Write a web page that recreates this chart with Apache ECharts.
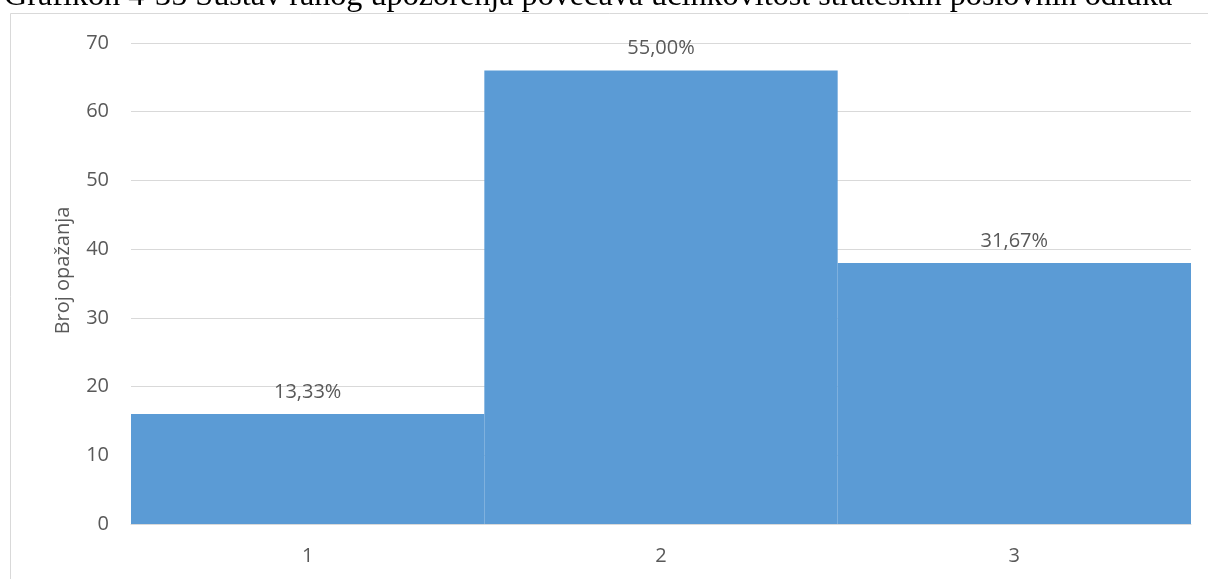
<!DOCTYPE html>
<html>
<head>
<meta charset="utf-8">
<script src="https://cdn.jsdelivr.net/npm/echarts@6/dist/echarts.min.js"></script>
<style>
html,body{margin:0;padding:0;background:#fff;}
#c{width:1208px;height:579px;}
</style>
</head>
<body>
<div id="c"></div>
<script>
const titleText = 'Grafikon 4-35 Sustav ranog upozorenja povećava učinkovitost strateških poslovnih odluka';
const categories = ['1', '2', '3'];
const counts = [16, 66, 38];
const percentLabels = ['13,33%', '55,00%', '31,67%'];
const yAxisName = 'Broj opažanja';

const chart = echarts.init(document.getElementById('c'), null, {renderer: 'canvas'});
const font = '"Open Sans", sans-serif';
chart.setOption({
  animation: false,
  backgroundColor: '#ffffff',
  graphic: [
    {type: 'rect', shape: {x: 10.5, y: 13.5, width: 1300, height: 700},
     style: {fill: 'none', stroke: '#d9d9d9', lineWidth: 1}, silent: true, z: 0},
    {type: 'text', x: 4, y: -19, z: 10,
     style: {text: titleText, font: '32.2px "Liberation Serif", "Times New Roman", serif', fill: '#000000', verticalAlign: 'top'}}
  ],
  grid: {left: 131, right: 17, top: 43, bottom: 55, containLabel: false},
  xAxis: {
    type: 'category', data: categories,
    axisLine: {show: true, lineStyle: {color: '#d9d9d9', width: 1}},
    axisTick: {show: false},
    axisLabel: {color: '#595959', fontSize: 20, fontFamily: font, margin: 22}
  },
  yAxis: {
    type: 'value', min: 0, max: 70, interval: 10,
    name: yAxisName, nameLocation: 'middle', nameGap: 58, nameRotate: 90,
    nameTextStyle: {color: '#595959', fontSize: 20, fontFamily: font, padding: [0, 0, 0, 26]},
    axisLine: {show: false}, axisTick: {show: false},
    splitLine: {lineStyle: {color: '#d9d9d9', width: 1}},
    axisLabel: {color: '#595959', fontSize: 20, fontFamily: font, margin: 22}
  },
  series: [{
    type: 'bar', data: counts, barCategoryGap: '0%',
    itemStyle: {color: '#5b9bd5'},
    label: {show: true, position: 'top', distance: 12, color: '#595959', fontSize: 20, fontFamily: font,
      formatter: p => percentLabels[p.dataIndex]}
  }]
});
</script>
</body>
</html>
